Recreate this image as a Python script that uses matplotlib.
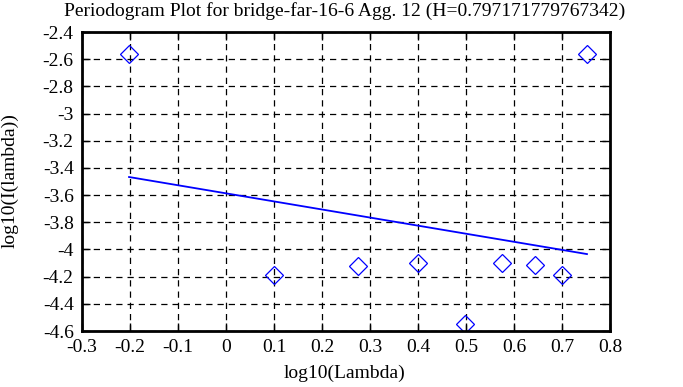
import matplotlib
matplotlib.use("Agg")
import matplotlib.pyplot as plt
import numpy as np

log_lambda = [-0.202, 0.099, 0.275, 0.400, 0.497, 0.576, 0.643, 0.701, 0.752]
log_I = [-2.565, -4.188, -4.122, -4.100, -4.552, -4.098, -4.115, -4.188, -2.565]
fit_x = [-0.202, 0.752]
fit_y = [-3.467, -4.034]
xticks = [-0.3, -0.2, -0.1, 0, 0.1, 0.2, 0.3, 0.4, 0.5, 0.6, 0.7, 0.8]
yticks = [-2.4, -2.6, -2.8, -3, -3.2, -3.4, -3.6, -3.8, -4, -4.2, -4.4, -4.6]
title = "Periodogram Plot for bridge-far-16-6 Agg. 12 (H=0.797171779767342)"

plt.rcParams['font.family'] = ['Liberation Serif', 'DejaVu Serif']
fig = plt.figure(figsize=(6.83, 3.87), dpi=100)
ax = fig.add_axes([82/683, 1-331/387, (610-82)/683, (331-32)/387])

ax.plot(log_lambda, log_I, linestyle='none', marker='D', markersize=9.5,
        markerfacecolor='none', markeredgecolor='#0000ff', markeredgewidth=0.9)
ax.plot(fit_x, fit_y, color='#0000ff', linewidth=1.3)

ax.set_xlim(-0.3, 0.8)
ax.set_ylim(-4.6, -2.4)
ax.set_xticks(xticks)
ax.set_yticks(yticks)
ax.set_xticklabels([f"{t:g}" for t in xticks])
ax.set_yticklabels([f"{t:g}" for t in yticks])
ax.grid(True, color='black', linestyle=(0, (5, 4)), linewidth=0.9)
ax.tick_params(direction='in', length=6, width=1, top=True, right=True,
               labelsize=14, pad=6, colors='black')
for s in ax.spines.values():
    s.set_linewidth(2)
fig.text(0.505, 1-11/387, title, fontsize=14, ha='center', va='center')
fig.text(0.505, 1-373/387, "log10(Lambda)", fontsize=14, ha='center', va='center')
fig.text(10/683, 1-181/387, "log10(I(lambda))", fontsize=14, ha='center',
         va='center', rotation=90)
fig.savefig("out.png", dpi=100)
